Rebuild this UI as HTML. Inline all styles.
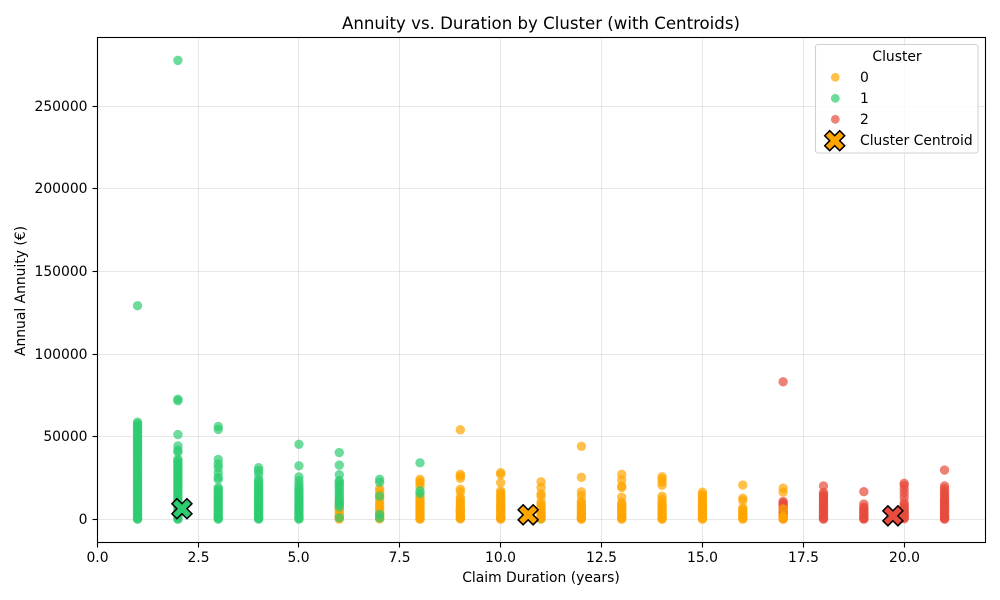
<!DOCTYPE html>
<html lang="en">
<head>
<meta charset="utf-8">
<title>Annuity vs. Duration by Cluster</title>
<style>
html,body{margin:0;padding:0;background:#fff;}
svg{display:block;font-family:"DejaVu Sans","Liberation Sans",sans-serif;}
</style>
</head>
<body>
<svg id="chart" xmlns="http://www.w3.org/2000/svg" width="1000" height="600" viewBox="0 0 1000 600">
  <rect x="0" y="0" width="1000" height="600" fill="#fff"/>
  <g id="grid"></g>
  <g id="points"></g>
  <g id="centroids"></g>
  <rect x="97.5" y="37.5" width="888" height="505" fill="none" stroke="#000" stroke-width="1.1"/>
  <g id="ticks"></g>
  <text x="541" y="29" font-size="16.6" text-anchor="middle" fill="#000">Annuity vs. Duration by Cluster (with Centroids)</text>
  <text x="541" y="582" font-size="13.89" text-anchor="middle" fill="#000">Claim Duration (years)</text>
  <text transform="translate(25,291) rotate(-90)" font-size="13.89" text-anchor="middle" fill="#000">Annual Annuity (€)</text>
  <g id="legend">
    <rect x="815.5" y="44.5" width="162.5" height="108.5" rx="2.5" fill="#fff" fill-opacity="0.8" stroke="#d0d0d0" stroke-width="1.1"/>
    <text x="897" y="61" font-size="13.89" text-anchor="middle" fill="#000">Cluster</text>
    <circle cx="835.3" cy="77.3" r="4.4" fill="#FFA500" fill-opacity="0.7"/>
    <text x="860" y="82" font-size="13.89" fill="#000">0</text>
    <circle cx="835.3" cy="98.3" r="4.4" fill="#2ECC71" fill-opacity="0.7"/>
    <text x="860" y="103" font-size="13.89" fill="#000">1</text>
    <circle cx="835.3" cy="119.3" r="4.4" fill="#E74C3C" fill-opacity="0.7"/>
    <text x="860" y="124" font-size="13.89" fill="#000">2</text>
    <polygon transform="translate(834.7,140.7)" points="-5,-10 0,-5 5,-10 10,-5 5,0 10,5 5,10 0,5 -5,10 -10,5 -5,0 -10,-5" fill="#FFA500" stroke="#000" stroke-width="1.5" stroke-linejoin="miter"/>
    <text x="860" y="145" font-size="13.89" fill="#000">Cluster Centroid</text>
  </g>
</svg>
<script>
const xTickValues = [0, 2.5, 5, 7.5, 10, 12.5, 15, 17.5, 20];
const xTickLabels = ["0.0", "2.5", "5.0", "7.5", "10.0", "12.5", "15.0", "17.5", "20.0"];
const yTickValues = [0, 50000, 100000, 150000, 200000, 250000];
const yTickLabels = ["0", "50000", "100000", "150000", "200000", "250000"];

const cluster2Durations = [17, 18, 19, 20, 21];
const cluster2Annuities = [
  [83200, 10800, 10000, 9200, 8400, 7600, 6800, 6000, 5000, 4000, 3000, 2000, 1000, 300],
  [20200, 16200, 15000, 14000, 13000, 12000, 11000, 10000, 9000, 8000, 7000, 6000, 5000, 4000, 3000, 2000, 1200, 500, 100],
  [16700, 9200, 7500, 6500, 5600, 4800, 4000, 3200, 2400, 1600, 900, 400, 100],
  [21800, 20600, 18200, 15800, 13200, 10200, 8600, 7400, 6200, 5200, 4200, 3300, 2400, 1600, 900, 300],
  [29800, 20200, 18600, 17000, 15800, 14500, 13200, 12000, 11000, 10000, 9000, 8000, 7000, 6000, 5000, 4000, 3000, 2000, 1200, 500, 100]
];

const cluster1Durations = [1, 2, 3, 4, 5, 6, 7, 8, 9, 10, 11];
const cluster1Annuities = [
  [129300, 58800, 57800, 56800, 55600, 54600, 53400, 52400, 51200, 50200, 49200, 48200, 47000, 46000, 45000, 44000, 42800, 41800, 40800, 39800, 38800, 37800, 37000, 35800, 34600, 33400, 32200, 31000, 29800, 28600, 27500, 26400, 25300, 24200, 23100, 22000, 21000, 20000, 19000, 18000, 17000, 16000, 15000, 14000, 13000, 12000, 11000, 10000, 9000, 8000, 7000, 6000, 5000, 4000, 3000, 2000, 1000, 300, 50],
  [277800, 72700, 71700, 51300, 44400, 41800, 40600, 36400, 35400, 34400, 33400, 32400, 31400, 30400, 29400, 28400, 27400, 26400, 25400, 24400, 23400, 22400, 21400, 20400, 19400, 18400, 17400, 16400, 15200, 14000, 12800, 11600, 10400, 9300, 8200, 7100, 6000, 5000, 4000, 3000, 2000, 1000, 300, 50],
  [56200, 54400, 36200, 33400, 31200, 28200, 25400, 24200, 19200, 18200, 17000, 16000, 15000, 14000, 13000, 12000, 11000, 10000, 9000, 8000, 7000, 6000, 5000, 4000, 3000, 2000, 1200, 500, 100],
  [31200, 29400, 27400, 24200, 23000, 21800, 20600, 19400, 18200, 17000, 16000, 15000, 14000, 13000, 12000, 11000, 10000, 9000, 8000, 7000, 6000, 5000, 4000, 3000, 2000, 1200, 500, 100],
  [45400, 32400, 25600, 23200, 21200, 19400, 18000, 16800, 15600, 14400, 13200, 12000, 11000, 10000, 9000, 8000, 7000, 6000, 5000, 4000, 3000, 2000, 1200, 500, 100],
  [40400, 32800, 27000, 23400, 22400, 21000, 19500, 18000, 16500, 15000, 13500, 12000, 10500, 9000, 7500, 1000],
  [24200, 22400, 14000, 3000, 800],
  [34200, 17200, 15600],
  [5200, 800],
  [900],
  [200]
];

const cluster0Durations = [6, 7, 8, 9, 10, 11, 12, 13, 14, 15, 16, 17];
const cluster0Annuities = [
  [12000, 10000, 8000, 6400, 5200, 3800, 2600, 1500, 700, 100],
  [18600, 17000, 15000, 13000, 11200, 9600, 8000, 6600, 5200, 4000, 2800, 1800, 900, 200],
  [24200, 23000, 21800, 19800, 14000, 12800, 11600, 10400, 9400, 8400, 7400, 6400, 5400, 4400, 3400, 2500, 1700, 900, 300, 50],
  [54200, 27200, 26200, 24800, 18200, 16600, 13200, 12000, 10800, 9600, 8400, 7200, 6200, 5200, 4200, 3200, 2300, 1500, 800, 200],
  [28200, 27200, 22200, 17200, 16000, 14800, 13600, 12400, 11200, 10000, 9000, 8000, 7000, 6000, 5000, 4000, 3000, 2000, 1200, 500, 100],
  [22700, 19200, 15400, 14000, 10400, 9000, 7800, 6600, 5400, 4200, 3200, 2300, 1500, 800, 200],
  [44200, 25400, 16600, 14200, 11200, 10000, 8800, 7600, 6500, 5400, 4400, 3400, 2500, 1700, 900, 300, 50],
  [27200, 23800, 20200, 19200, 13400, 10200, 9000, 8000, 7000, 6000, 5000, 4000, 3000, 2000, 1200, 500, 100],
  [25800, 24400, 22400, 20600, 14000, 12200, 10400, 9200, 8200, 7200, 6200, 5200, 4200, 3300, 2400, 1600, 900, 300, 50],
  [16400, 15000, 13800, 12600, 11400, 10200, 9000, 8000, 7000, 6000, 5000, 4000, 3000, 2000, 1200, 500, 100],
  [20700, 12800, 11400, 7000, 6000, 5000, 4000, 3000, 2000, 1200, 500, 100],
  [18800, 16400, 6300, 2200, 1200, 500, 100]
];

const centroidDurations = [10.68, 2.1, 19.72];
const centroidAnnuities = [2700, 6400, 2100];
const clusterColors = ["#FFA500", "#2ECC71", "#E74C3C"];

const SVG_NS = "http://www.w3.org/2000/svg";
function xScale(v) { return 97.2 + v * 40.35; }
function yScale(v) { return 519.3 - v * 0.001652; }
function make(tag, attrs, parent) {
  const el = document.createElementNS(SVG_NS, tag);
  for (const k in attrs) el.setAttribute(k, attrs[k]);
  parent.appendChild(el);
  return el;
}

const gridGroup = document.getElementById("grid");
const tickGroup = document.getElementById("ticks");
const pointGroup = document.getElementById("points");
const centroidGroup = document.getElementById("centroids");

xTickValues.forEach(function (v, i) {
  const x = Math.floor(xScale(v)) + 0.5;
  const g = make("line", {x1: x, x2: x, y1: 37.5, y2: 542.5, stroke: "#b0b0b0", "stroke-opacity": 0.3, "stroke-width": 1.1}, gridGroup);
  
  
  const t = make("line", {x1: x, x2: x, y1: 542.5, y2: 547.5, stroke: "#000", "stroke-width": 1.1}, tickGroup);
  
  
  const l = make("text", {x: x, y: 562, "font-size": 13.89, "text-anchor": "middle", fill: "#000"}, tickGroup);
  
  
  l.textContent = xTickLabels[i];
});

yTickValues.forEach(function (v, i) {
  const y = Math.floor(yScale(v)) + 0.5;
  const g = make("line", {x1: 97.5, x2: 985.5, y1: y, y2: y, stroke: "#b0b0b0", "stroke-opacity": 0.3, "stroke-width": 1.1}, gridGroup);
  
  
  const t = make("line", {x1: 92.5, x2: 97.5, y1: y, y2: y, stroke: "#000", "stroke-width": 1.1}, tickGroup);
  
  
  const l = make("text", {x: 87.5, y: y + 4.5, "font-size": 13.89, "text-anchor": "end", fill: "#000"}, tickGroup);
  
  
  l.textContent = yTickLabels[i];
});

function drawCluster(durations, annuities, color, name, minDuration, maxDuration) {
  durations.forEach(function (d, i) {
    if (d < minDuration || d > maxDuration) return;
    annuities[i].forEach(function (a) {
      const c = make("circle", {cx: xScale(d), cy: yScale(a), r: 4.7, fill: color, "fill-opacity": 0.7}, pointGroup);
      
      
    });
  });
}
drawCluster(cluster2Durations, cluster2Annuities, clusterColors[2], 'cluster-2-point', 0, 99);
drawCluster(cluster0Durations, cluster0Annuities, clusterColors[0], 'cluster-0-point', 0, 8);
drawCluster(cluster1Durations, cluster1Annuities, clusterColors[1], 'cluster-1-point', 0, 99);
drawCluster(cluster0Durations, cluster0Annuities, clusterColors[0], 'cluster-0-point', 9, 99);

const xMarkerPoints = "-5,-10 0,-5 5,-10 10,-5 5,0 10,5 5,10 0,5 -5,10 -10,5 -5,0 -10,-5";
centroidDurations.forEach(function (d, i) {
  const m = make("polygon", {points: xMarkerPoints, transform: "translate(" + xScale(d) + "," + yScale(centroidAnnuities[i]) + ")", fill: clusterColors[i], stroke: "#000", "stroke-width": 1.5}, centroidGroup);
  
  
});
</script>
</body>
</html>
